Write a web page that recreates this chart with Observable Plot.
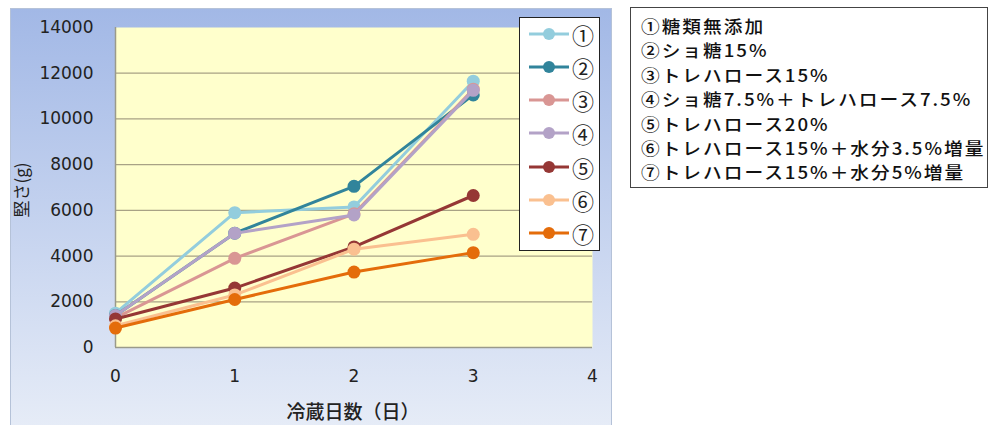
<!DOCTYPE html>
<html><head><meta charset="utf-8">
<script src="https://cdn.jsdelivr.net/npm/d3@7"></script>
<script src="https://cdn.jsdelivr.net/npm/@observablehq/plot@0.6"></script>
<style>
body{margin:0;background:#fff;}
#wrap{position:relative;width:991px;height:425px;overflow:hidden;font-family:"Noto Sans CJK JP",sans-serif;}
#bg{position:absolute;left:10px;top:8px;width:602px;height:420px;background:linear-gradient(#a2b8e6,#e6ecf7);border:1px solid #b5c2d8;box-sizing:border-box;}
#plot{position:absolute;left:0;top:0;}
#ylab{position:absolute;left:20px;top:190px;transform:translate(-50%,-50%) rotate(-90deg);font-size:17px;color:#222;white-space:nowrap;}
#xlab{position:absolute;left:353px;top:410px;transform:translate(-50%,-50%);font-size:19px;font-weight:500;color:#222;white-space:nowrap;}
#leg{position:absolute;left:519px;top:17px;width:81px;height:234px;background:#fff;border:1px solid #222;box-sizing:border-box;}
.li{position:absolute;left:9px;height:22px;display:flex;align-items:center;}
.li span{font-size:22px;color:#222;margin-left:3px;line-height:22px;}
#notes{position:absolute;left:630px;top:7px;width:358px;height:181px;border:1px solid #444;box-sizing:border-box;background:#fff;padding:6px 0 0 10px;}
#notes div{font-size:17px;height:24.4px;line-height:24.4px;letter-spacing:1.8px;color:#111;white-space:nowrap;font-weight:500;transform:scaleX(1.1);transform-origin:0 50%;}
</style></head>
<body>
<div id="wrap">
  <div id="bg"></div>
  <div id="plot"></div>
  <div id="ylab"></div>
  <div id="xlab"></div>
  <div id="leg"></div>
  <div id="notes"></div>
</div>
<script>
const days = [0, 1, 2, 3];
const seriesKeys = ["①", "②", "③", "④", "⑤", "⑥", "⑦"];
const seriesNames = [
  "①糖類無添加",
  "②ショ糖15%",
  "③トレハロース15%",
  "④ショ糖7.5%＋トレハロース7.5%",
  "⑤トレハロース20%",
  "⑥トレハロース15%＋水分3.5%増量",
  "⑦トレハロース15%＋水分5%増量"
];
const seriesColors = ["#93cddd", "#31849b", "#d99694", "#b3a2c7", "#953735", "#fac090", "#e46c0a"];
const s1 = [1500, 5900, 6150, 11650];
const s2 = [1400, 5000, 7050, 11050];
const s3 = [1300, 3900, 5850, 11300];
const s4 = [1400, 5000, 5800, 11250];
const s5 = [1250, 2600, 4400, 6650];
const s6 = [950, 2300, 4300, 4950];
const s7 = [850, 2100, 3300, 4150];
const seriesValues = [s1, s2, s3, s4, s5, s6, s7];
const xTicks = [0, 1, 2, 3, 4];
const yTicks = [0, 2000, 4000, 6000, 8000, 10000, 12000, 14000];
const xLabel = "冷蔵日数（日）";
const yLabel = "堅さ(g)";

const rows = [];
seriesKeys.forEach((k, i) => days.forEach((d, j) => rows.push({s: k, day: d, v: seriesValues[i][j]})));

const marks = [
  Plot.frame({fill: "#ffffcc", stroke: null}),
  Plot.gridY(yTicks.filter(t => t > 0 && t < 14000), {stroke: "#a8a285", strokeOpacity: 1, strokeWidth: 1.2}),
  Plot.ruleX([0], {stroke: "#9a9a8a", strokeWidth: 1.5}),
  Plot.ruleY([0], {stroke: "#9a9a8a", strokeWidth: 1.5}),
];
seriesKeys.forEach((k, i) => {
  const d = rows.filter(r => r.s === k);
  marks.push(Plot.line(d, {x: "day", y: "v", stroke: seriesColors[i], strokeWidth: 3}));
  marks.push(Plot.dot(d, {x: "day", y: "v", fill: seriesColors[i], r: 6.5, stroke: null}));
});
marks.push(Plot.axisY(yTicks, {tickSize: 0, tickPadding: 22, fontSize: 17, label: null, fill: "#222", tickFormat: d => String(d)}));
marks.push(Plot.axisX(xTicks, {tickSize: 0, tickPadding: 22, fontSize: 17, label: null, fill: "#222", tickFormat: d => String(d)}));

const chart = Plot.plot({
  width: 613, height: 425,
  marginLeft: 115, marginRight: 21, marginTop: 27, marginBottom: 78,
  x: {domain: [0, 4]},
  y: {domain: [0, 14000]},
  style: {background: "transparent", fontFamily: "DejaVu Sans", overflow: "visible"},
  marks
});
document.getElementById("plot").appendChild(chart);
document.getElementById("ylab").textContent = yLabel;
document.getElementById("xlab").textContent = xLabel;

const leg = document.getElementById("leg");
seriesKeys.forEach((k, i) => {
  const el = document.createElement("div");
  el.className = "li";
  el.style.top = (16.5 + i * 33.3 - 11 - 1) + "px";
  const svg = d3.create("svg").attr("width", 40).attr("height", 22);
  svg.append("line").attr("x1", 0).attr("x2", 40).attr("y1", 11).attr("y2", 11).attr("stroke", seriesColors[i]).attr("stroke-width", 3);
  svg.append("circle").attr("cx", 20).attr("cy", 11).attr("r", 6).attr("fill", seriesColors[i]);
  el.appendChild(svg.node());
  const t = document.createElement("span");
  t.textContent = k;
  el.appendChild(t);
  leg.appendChild(el);
});
const notes = document.getElementById("notes");
seriesNames.forEach(n => { const d = document.createElement("div"); d.textContent = n; notes.appendChild(d); });
</script>
</body></html>
